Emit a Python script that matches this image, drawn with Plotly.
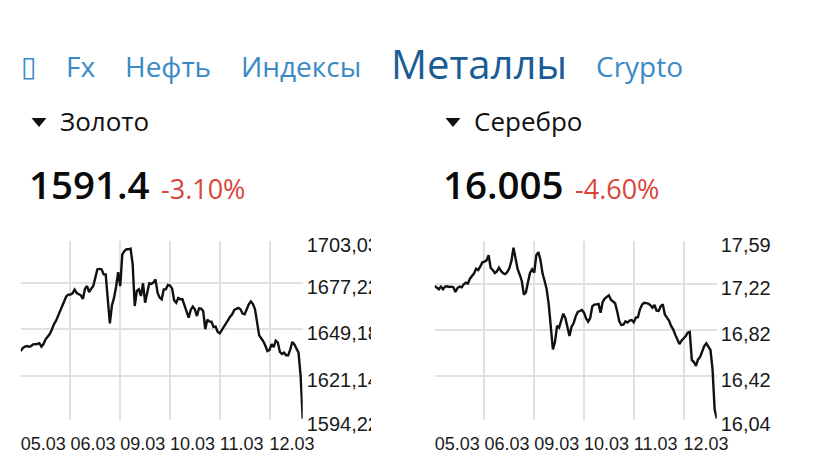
import plotly.graph_objects as go

W, H = 828, 464

# ---------------- data ----------------
day_labels = ["05.03", "06.03", "09.03", "10.03", "11.03", "12.03"]
day_start_hours = [0, 24, 48, 72, 96, 120]

gold_values = [
    1636.1, 1637.9, 1638.7, 1639.1, 1638.7, 1639.1, 1640.1, 1640.1, 1640.3, 1640.8,
    1638.7, 1640.3, 1643.2, 1644.8, 1646.4, 1649.0, 1652.3, 1654.3, 1657.1, 1660.0,
    1663.6, 1666.6, 1669.3, 1670.3, 1670.3, 1671.1, 1673.3, 1671.3, 1670.7, 1669.9,
    1667.7, 1673.9, 1675.5, 1671.9, 1673.9, 1675.5, 1680.6, 1685.7, 1685.9, 1685.7,
    1682.6, 1682.6, 1667.5, 1652.9, 1663.8, 1668.3, 1675.1, 1684.0, 1675.5, 1694.8,
    1696.8, 1697.8, 1697.8, 1698.2, 1688.7, 1663.4, 1672.5, 1673.5, 1669.5, 1677.2,
    1665.4, 1670.5, 1677.2, 1676.8, 1677.6, 1679.6, 1671.5, 1668.5, 1667.5, 1673.5,
    1673.5, 1676.2, 1675.8, 1674.1, 1666.9, 1665.4, 1668.3, 1667.5, 1667.5, 1663.8,
    1659.4, 1656.3, 1661.0, 1663.0, 1661.4, 1657.3, 1662.0, 1661.8, 1660.4, 1649.3,
    1655.1, 1653.9, 1653.9, 1650.7, 1650.9, 1647.6, 1646.8, 1649.0, 1650.5, 1652.9,
    1654.9, 1656.9, 1658.4, 1661.0, 1661.8, 1662.2, 1661.4, 1658.8, 1658.4, 1661.8,
    1664.4, 1666.2, 1664.6, 1661.4, 1653.7, 1645.6, 1643.8, 1642.0, 1639.3, 1636.1,
    1636.7, 1640.3, 1638.5, 1642.4, 1641.2, 1635.5, 1634.3, 1635.1, 1633.5, 1633.5,
    1637.1, 1641.6, 1640.1, 1637.5, 1635.1, 1620.9, 1595.0,
]

silver_values = [
    17.198, 17.184, 17.170, 17.193, 17.170, 17.193, 17.196, 17.190, 17.193, 17.187,
    17.147, 17.181, 17.193, 17.187, 17.213, 17.227, 17.219, 17.262, 17.285, 17.308,
    17.348, 17.337, 17.368, 17.403, 17.409, 17.420, 17.464, 17.354, 17.337, 17.311,
    17.325, 17.357, 17.328, 17.308, 17.302, 17.319, 17.351, 17.415, 17.530, 17.423,
    17.343, 17.296, 17.242, 17.124, 17.144, 17.233, 17.314, 17.343, 17.314, 17.464,
    17.492, 17.423, 17.308, 17.242, 17.170, 17.040, 16.824, 16.651, 16.714, 16.853,
    16.838, 16.910, 16.959, 16.922, 16.853, 16.766, 16.847, 16.876, 16.936, 16.974,
    16.982, 16.991, 16.968, 16.919, 16.890, 16.922, 17.023, 17.037, 17.040, 17.043,
    16.968, 17.060, 17.089, 17.106, 17.118, 17.080, 17.060, 17.049, 16.979, 16.893,
    16.861, 16.864, 16.893, 16.882, 16.899, 16.904, 16.884, 16.925, 16.928, 16.997,
    17.037, 17.054, 17.051, 17.046, 17.034, 17.011, 17.034, 16.985, 16.982, 17.023,
    17.040, 16.951, 16.925, 16.899, 16.853, 16.824, 16.778, 16.743, 16.697, 16.726,
    16.746, 16.763, 16.795, 16.801, 16.559, 16.541, 16.507, 16.564, 16.585, 16.637,
    16.680, 16.703, 16.674, 16.645, 16.478, 16.132, 16.052,
]

gold_ticks = [1594.22, 1621.14, 1649.18, 1677.22, 1703.03]
gold_ticktext = ["1594,22", "1621,14", "1649,18", "1677,22", "1703,03"]
silver_ticks = [16.04, 16.42, 16.82, 17.22, 17.59]
silver_ticktext = ["16,04", "16,42", "16,82", "17,22", "17,59"]

nav_items = ["\u25af", "Fx", "Нефть", "Индексы", "Металлы", "Crypto"]
active_nav = "Металлы"
names = ["Золото", "Серебро"]
prices = ["1591.4", "16.005"]
changes = ["-3.10%", "-4.60%"]

hours_gold = list(range(len(gold_values)))
hours_silver = list(range(len(silver_values)))

# ---------------- styling ----------------
NAV_BLUE = "#3a8ac6"
NAV_DARK = "#1a5c96"
RED = "#d9453a"
GRID = "#e1e1e1"
UI_FONT = "Open Sans"
AX_FONT = "Liberation Sans"


def px(x):
    return x / W


def py(y):
    return 1 - y / H


fig = go.Figure()
fig.add_trace(go.Scatter(x=hours_gold, y=gold_values, mode="lines",
                         line=dict(color="#111111", width=2.4),
                         xaxis="x", yaxis="y", hoverinfo="skip"))
fig.add_trace(go.Scatter(x=hours_silver, y=silver_values, mode="lines",
                         line=dict(color="#111111", width=2.4),
                         xaxis="x2", yaxis="y2", hoverinfo="skip"))

ydom = [py(420), py(240.7)]
xaxis_common = dict(
    tickmode="array", tickvals=day_start_hours, ticktext=day_labels,
    range=[0, 136], showgrid=True, gridcolor=GRID, gridwidth=2,
    zeroline=False, showline=False, ticks="", tickangle=0, automargin=False,
    tickfont=dict(family=AX_FONT, size=18, color="#1a1a1a"),
    ticklabelposition="outside right", ticklabelstandoff=11,
    fixedrange=True,
)
yaxis_common = dict(
    side="right", showgrid=True, gridcolor=GRID, gridwidth=2,
    zeroline=False, showline=False, ticks="", automargin=False,
    tickfont=dict(family=AX_FONT, size=20, color="#1a1a1a"),
    ticklabelstandoff=3, ticklabelshift=4,
    fixedrange=True,
)

fig.update_layout(
    width=W, height=H,
    margin=dict(l=0, r=0, t=0, b=0, pad=0, autoexpand=False),
    paper_bgcolor="white", plot_bgcolor="white",
    showlegend=False,
    xaxis=dict(domain=[px(20.7), px(302.7)], anchor="y", **xaxis_common),
    yaxis=dict(domain=ydom, anchor="x", range=[gold_ticks[0], gold_ticks[-1]],
               tickvals=gold_ticks, ticktext=gold_ticktext, **yaxis_common),
    xaxis2=dict(domain=[px(434.7), px(716.7)], anchor="y2", **xaxis_common),
    yaxis2=dict(domain=ydom, anchor="x2", range=[silver_ticks[0], silver_ticks[-1]],
                tickvals=silver_ticks, ticktext=silver_ticktext, **yaxis_common),
)

annotations = []
nav_x = [18.7, 64, 123, 239, 389, 594]
for label, x in zip(nav_items, nav_x):
    active = label == active_nav
    annotations.append(dict(
        text=label, x=px(x), y=py(63 if active else 66), xref="paper", yref="paper",
        xanchor="left", yanchor="middle", showarrow=False,
        font=dict(family=UI_FONT if label != "\u25af" else "DejaVu Sans",
                  size=40 if active else 28,
                  color=NAV_DARK if active else NAV_BLUE),
    ))

name_x = [58, 472]
price_x = [27, 441]
change_x = [159, 573]
for i in range(2):
    annotations.append(dict(
        text=names[i], x=px(name_x[i]), y=py(120.5), xref="paper", yref="paper",
        xanchor="left", yanchor="middle", showarrow=False,
        font=dict(family=UI_FONT, size=26, color="#111111")))
    annotations.append(dict(
        text=prices[i], x=px(price_x[i]), y=py(184), xref="paper", yref="paper",
        xanchor="left", yanchor="middle", showarrow=False,
        font=dict(family=UI_FONT, size=38.5, color="#0a0a0a", weight=600)))
    annotations.append(dict(
        text=changes[i], x=px(change_x[i]), y=py(188), xref="paper", yref="paper",
        xanchor="left", yanchor="middle", showarrow=False,
        font=dict(family=UI_FONT, size=27, color=RED)))

shapes = []
for x0 in [31.5, 445.5]:
    shapes.append(dict(
        type="path", xref="paper", yref="paper",
        path=f"M {px(x0)} {py(118)} L {px(x0 + 15)} {py(118)} L {px(x0 + 7.5)} {py(127)} Z",
        fillcolor="#111111", line=dict(width=0)))
# the gold price scale image is cut off at its right edge
shapes.append(dict(type="rect", xref="paper", yref="paper", layer="above",
                   x0=px(371), x1=px(428), y0=py(436), y1=py(226),
                   fillcolor="white", line=dict(width=0)))

fig.update_layout(annotations=annotations, shapes=shapes)
fig.write_html(
    "out.html",
    config={"displayModeBar": False},
    post_script="document.body.style.margin='0';document.body.style.overflow='hidden';",
)
